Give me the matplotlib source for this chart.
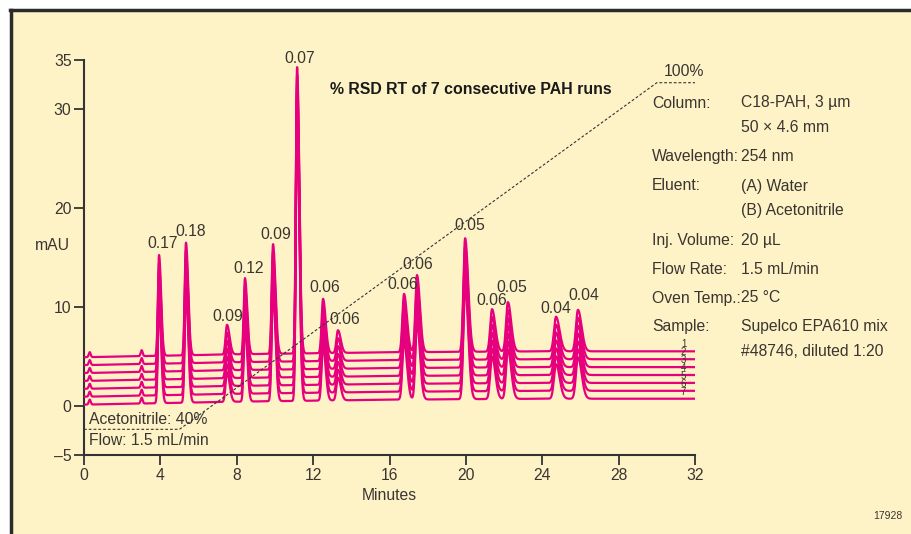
import numpy as np
import matplotlib
matplotlib.use("Agg")
import matplotlib.pyplot as plt
from matplotlib.patches import Rectangle

# ---------------- data ----------------
peak_times = [3.93, 5.34, 7.49, 8.43, 9.90, 11.16, 12.52, 13.30, 16.76, 17.44,
              19.96, 21.37, 22.20, 24.72, 25.87]
peak_heights = [10.2, 11.4, 3.0, 7.7, 11.1, 29.0, 5.5, 2.3, 5.9, 7.8,
                11.5, 4.3, 5.0, 3.5, 4.2]
peak_widths = [0.06, 0.065, 0.075, 0.065, 0.07, 0.065, 0.075, 0.08, 0.085, 0.085,
               0.09, 0.095, 0.095, 0.105, 0.105]
rsd_labels = ["0.17", "0.18", "0.09", "0.12", "0.09", "0.07", "0.06", "0.06",
              "0.06", "0.06", "0.05", "0.06", "0.05", "0.04", "0.04"]
label_x = [4.1, 5.6, 7.55, 8.6, 10.05, 11.3, 12.6, 13.67, 16.7, 17.5,
           20.2, 21.37, 22.4, 24.72, 26.2]
label_y = [16.4, 17.6, 9.0, 13.9, 17.3, 35.2, 12.0, 8.7, 12.3, 14.3,
           18.2, 10.6, 12.0, 9.8, 11.2]
minor_times = [0.30, 3.02]
minor_heights = [0.5, 0.6]
run_offsets = [4.9, 4.1, 3.3, 2.5, 1.7, 0.9, 0.1]
run_names = ["1", "2", "3", "4", "5", "6", "7"]
drift_times = [0, 8, 16, 24, 32]
drift_levels = [0.0, 0.3, 0.5, 0.6, 0.6]
grad_time = [0, 5, 30, 32]
grad_level = [-2.4, -2.4, 32.7, 32.7]

x_ticks = [0, 4, 8, 12, 16, 20, 24, 28, 32]
y_ticks = [-5, 0, 10, 20, 30, 35]
y_ticklabels = ["\u20135", "0", "10", "20", "30", "35"]

conditions = [("Column:", "C18-PAH, 3 \u00b5m"), ("", "50 \u00d7 4.6 mm"),
              ("Wavelength:", "254 nm"), ("Eluent:", "(A) Water"),
              ("", "(B) Acetonitrile"), ("Inj. Volume:", "20 \u00b5L"),
              ("Flow Rate:", "1.5 mL/min"), ("Oven Temp.:", "25 \u00b0C"),
              ("Sample:", "Supelco EPA610 mix"), ("", "#48746, diluted 1:20")]
cond_y = [103, 128, 157, 186, 211, 241, 269, 298, 327, 351]

# ---------------- style ----------------
plt.rcParams["font.family"] = ["Liberation Sans", "DejaVu Sans"]
FS = 11.3
TXT = "#3a3530"
BG = "#fef3c7"
MAG = "#e6007e"

W, H = 911, 534
fig = plt.figure(figsize=(W / 100, H / 100), dpi=100)
fig.patch.set_facecolor("white")
fig.patches.append(Rectangle((12 / W, 0), 1 - 12 / W, 1 - 11 / H,
                             transform=fig.transFigure, facecolor=BG,
                             edgecolor="none", zorder=-10))
fig.add_artist(plt.Line2D([11 / W, 11 / W], [0, 1 - 10 / H], color="#2b2b2b",
                          lw=2.5, transform=fig.transFigure))
fig.add_artist(plt.Line2D([10 / W, 1], [1 - 10 / H, 1 - 10 / H], color="#2b2b2b",
                          lw=2.5, transform=fig.transFigure))

ax = fig.add_axes([84 / W, (H - 455) / H, 611 / W, 395 / H])
ax.set_facecolor("none")
ax.set_xlim(0, 32)
ax.set_ylim(-5, 35)

t = np.linspace(0, 32, 6000)
signal = np.zeros_like(t)
for t0, h, s in zip(peak_times, peak_heights, peak_widths):
    left = h * np.exp(-0.5 * ((t - t0) / s) ** 2)
    right = h * np.exp(-0.5 * ((t - t0) / (s * 1.8)) ** 2)
    signal += np.where(t < t0, left, right)
for t0, h in zip(minor_times, minor_heights):
    signal += h * np.exp(-0.5 * ((t - t0) / 0.05) ** 2)
drift = np.interp(t, drift_times, drift_levels)

for off in run_offsets[::-1]:
    ax.plot(t, signal + drift + off, color=MAG, lw=1.6, zorder=3)

for name, off in zip(run_names, run_offsets):
    ax.text(31.4, off + 1.3, name, fontsize=7, color=TXT, ha="center",
            va="center", zorder=4)

for lx, ly, lab in zip(label_x, label_y, rsd_labels):
    ax.text(lx, ly, lab, fontsize=FS, color=TXT, ha="center", va="center",
            zorder=5)

ax.plot(grad_time, grad_level, color="#333333", lw=0.8, dashes=(2.5, 1.8),
        zorder=4, clip_on=False)
ax.text(0.25, -1.4, "Acetonitrile: 40%", fontsize=FS, color=TXT,
        ha="left", va="center")
ax.text(0.25, -3.5, "Flow: 1.5 mL/min", fontsize=FS, color=TXT,
        ha="left", va="center")
ax.text(31.4, 33.8, "100%", fontsize=FS, color=TXT, ha="center",
        va="center")
ax.text(20.27, 32.0, "% RSD RT of 7 consecutive PAH runs", fontsize=11.4,
        fontweight="bold", color="#1a1a1a", ha="center", va="center")

for side in ("top", "right"):
    ax.spines[side].set_visible(False)
for side in ("left", "bottom"):
    ax.spines[side].set_color("#333333")
    ax.spines[side].set_linewidth(1.5)
ax.set_xticks(x_ticks)
ax.set_yticks(y_ticks)
ax.set_yticklabels(y_ticklabels)
ax.tick_params(axis="both", direction="out", length=7, width=1.3,
               colors="#333333", labelsize=FS, labelcolor=TXT, pad=2)
ax.set_xlabel("Minutes", fontsize=FS, color=TXT, labelpad=4)
fig.text(52 / W, 1 - 245 / H, "mAU", fontsize=FS, color=TXT,
         ha="center", va="center")

for (lab, val), yy in zip(conditions, cond_y):
    if lab:
        fig.text(652 / W, 1 - yy / H, lab, fontsize=FS, color=TXT,
                 ha="left", va="center")
    fig.text(741 / W, 1 - yy / H, val, fontsize=FS, color=TXT,
             ha="left", va="center")

fig.text(888 / W, 1 - 516 / H, "17928", fontsize=7.5, color=TXT,
         ha="center", va="center")

fig.savefig("out.png", dpi=100, facecolor=fig.get_facecolor())
